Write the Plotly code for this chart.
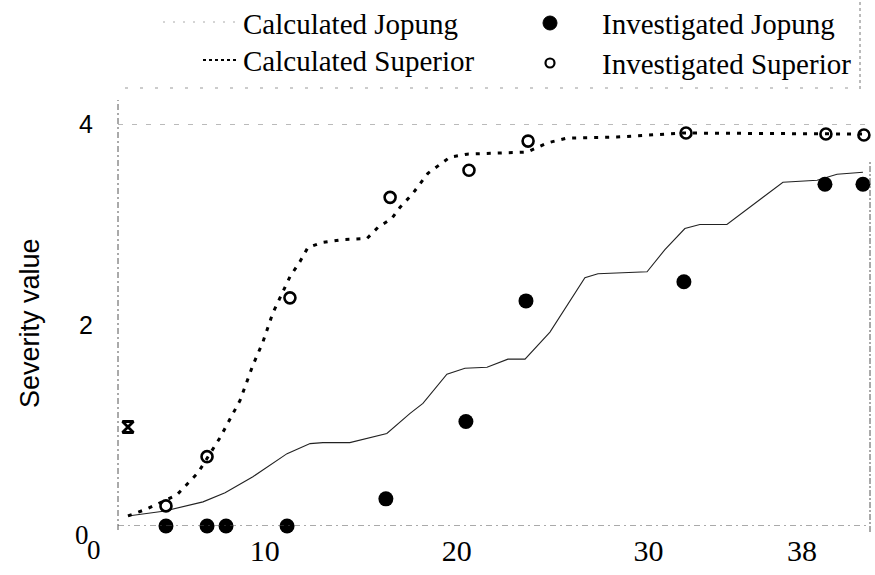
import plotly.graph_objects as go

# Calculated severity curves
calc_jopung_x = [2.87, 4.80, 6.78, 7.93, 9.38, 11.16, 12.36, 13.03, 14.43, 16.36, 17.57, 18.24,
                 19.49, 20.43, 21.58, 22.67, 23.56, 24.86, 26.68, 27.36, 29.92, 30.85, 31.89,
                 32.67, 34.08, 37.00, 38.78, 39.82, 41.17]
calc_jopung_y = [0.10, 0.15, 0.24, 0.33, 0.49, 0.72, 0.82, 0.83, 0.83, 0.92, 1.12, 1.22,
                 1.51, 1.57, 1.58, 1.66, 1.66, 1.93, 2.47, 2.51, 2.53, 2.75, 2.96,
                 3.00, 3.00, 3.42, 3.44, 3.50, 3.52]

calc_superior_x = [2.87, 3.86, 5.42, 6.52, 7.67, 8.71, 9.38, 9.90, 10.42, 11.31, 11.83, 12.24,
                   12.97, 14.07, 15.32, 15.89, 16.62, 17.04, 17.72, 18.50, 19.65, 20.54, 21.89,
                   23.66, 24.70, 25.74, 28.35, 31.79, 41.17]
calc_superior_y = [0.10, 0.17, 0.31, 0.53, 0.88, 1.25, 1.60, 1.83, 2.12, 2.48, 2.63, 2.77,
                   2.82, 2.85, 2.86, 2.97, 3.06, 3.17, 3.31, 3.51, 3.67, 3.70, 3.71,
                   3.72, 3.81, 3.86, 3.87, 3.91, 3.90]

# Field investigations
inv_jopung_x = [4.85, 6.99, 7.98, 11.16, 16.31, 20.48, 23.61, 31.84, 39.19, 41.17]
inv_jopung_y = [0.0, 0.0, 0.0, 0.0, 0.27, 1.04, 2.24, 2.43, 3.40, 3.40]

inv_superior_x = [4.85, 6.99, 11.31, 16.53, 20.64, 23.72, 31.95, 39.24, 41.22]
inv_superior_y = [0.20, 0.69, 2.27, 3.27, 3.54, 3.83, 3.91, 3.90, 3.89]

# Initial severity point
initial_x = [2.87]
initial_y = [0.985]

x_tick_vals = [10, 20, 30, 38]
y_tick_vals = [2, 4]

W, H = 875, 575
L, R, T, B = 118, 870, 124, 526


def px(xp):
    return (xp - L) / (R - L)


def py(yp):
    return (B - yp) / (B - T)


SERIF = "Liberation Serif, Times New Roman, serif"
SANS = "Liberation Sans, Arial, sans-serif"

fig = go.Figure()

fig.add_trace(go.Scatter(x=calc_jopung_x, y=calc_jopung_y, mode="lines",
                         line=dict(color="#222222", width=1.1),
                         name="Calculated Jopung", cliponaxis=False))
fig.add_trace(go.Scatter(x=calc_superior_x, y=calc_superior_y, mode="lines",
                         line=dict(color="black", width=3, dash="4px,7px"),
                         name="Calculated Superior", cliponaxis=False))
fig.add_trace(go.Scatter(x=inv_jopung_x, y=inv_jopung_y, mode="markers",
                         marker=dict(symbol="circle", size=15, color="black"),
                         name="Investigated Jopung", cliponaxis=False))
fig.add_trace(go.Scatter(x=inv_superior_x, y=inv_superior_y, mode="markers",
                         marker=dict(symbol="circle-open", size=11, color="black",
                                     line=dict(width=2.6)),
                         name="Investigated Superior", cliponaxis=False))
fig.add_trace(go.Scatter(x=initial_x, y=initial_y, mode="markers",
                         marker=dict(symbol="hourglass-open", size=11, color="black",
                                     line=dict(width=2.8)),
                         name="Initial", cliponaxis=False))

shapes = []
# frame lines
shapes.append(dict(type="line", xref="paper", yref="paper", x0=0, x1=0,
                   y0=py(530), y1=py(100), line=dict(color="#555", width=1, dash="6px,3px,2px,3px")))
shapes.append(dict(type="line", xref="paper", yref="y", x0=0, x1=1, y0=0, y1=0,
                   line=dict(color="#555", width=1, dash="6px,4px,2px,4px")))
shapes.append(dict(type="line", xref="paper", yref="paper", x0=1, x1=1,
                   y0=py(532), y1=py(160), line=dict(color="#555", width=1, dash="6px,2px,2px,2px")))
shapes.append(dict(type="line", xref="paper", yref="y", x0=0, x1=1, y0=4, y1=4,
                   line=dict(color="#777", width=1, dash="5px,9px")))
# legend frame remnants
shapes.append(dict(type="line", xref="paper", yref="paper", x0=px(860), x1=px(860),
                   y0=py(2), y1=py(90), line=dict(color="#777", width=1, dash="3px,3px")))
shapes.append(dict(type="line", xref="paper", yref="paper", x0=px(125), x1=px(860),
                   y0=py(88), y1=py(88), line=dict(color="#999", width=1, dash="3px,12px")))

# legend symbols
shapes.append(dict(type="line", xref="paper", yref="paper", x0=px(163), x1=px(238),
                   y0=py(22), y1=py(22), line=dict(color="#aaa", width=1, dash="2px,8px")))
shapes.append(dict(type="line", xref="paper", yref="paper", x0=px(203), x1=px(238),
                   y0=py(60), y1=py(60), line=dict(color="black", width=2.2, dash="3px,3px")))
shapes.append(dict(type="circle", xref="paper", yref="paper", x0=px(543), x1=px(557),
                   y0=py(16), y1=py(30), fillcolor="black", line=dict(color="black", width=1)))
shapes.append(dict(type="circle", xref="paper", yref="paper", x0=px(545.5), x1=px(554.5),
                   y0=py(58.5), y1=py(67.5), fillcolor="white", line=dict(color="black", width=2.2)))

annotations = []


def text(t, xp, yp, size, family, xanchor="left", angle=0):
    annotations.append(dict(text=t, xref="paper", yref="paper", x=px(xp), y=py(yp),
                            xanchor=xanchor, yanchor="middle", showarrow=False,
                            textangle=angle,
                            font=dict(family=family, size=size, color="black")))


text("Calculated Jopung", 241, 24, 29, SERIF)
text("Calculated Superior", 241, 61, 29, SERIF)
text("Investigated Jopung", 600, 24, 29, SERIF)
text("Investigated Superior", 600, 64, 29, SERIF)
text("Severity value", 30, 323, 27, SANS, xanchor="center", angle=-90)
text("0", 82, 535, 27, SERIF, xanchor="center")
text("0", 94, 550, 27, SERIF, xanchor="center")

fig.update_layout(
    width=W, height=H,
    margin=dict(l=L, r=W - R, t=T, b=H - B),
    paper_bgcolor="white", plot_bgcolor="white",
    showlegend=False,
    shapes=shapes,
    annotations=annotations,
    xaxis=dict(range=[(L - 72.9) / 19.19, (R - 72.9) / 19.19], tickvals=x_tick_vals,
               showgrid=False, zeroline=False, showline=False, ticks="",
               tickfont=dict(family=SERIF, size=30, color="black"), ticklabelstandoff=4),
    yaxis=dict(range=[0, 4], tickvals=y_tick_vals, showgrid=False, zeroline=False,
               showline=False, ticks="",
               tickfont=dict(family=SANS, size=25, color="black"), ticklabelstandoff=24),
)

fig.write_html("out.html")
